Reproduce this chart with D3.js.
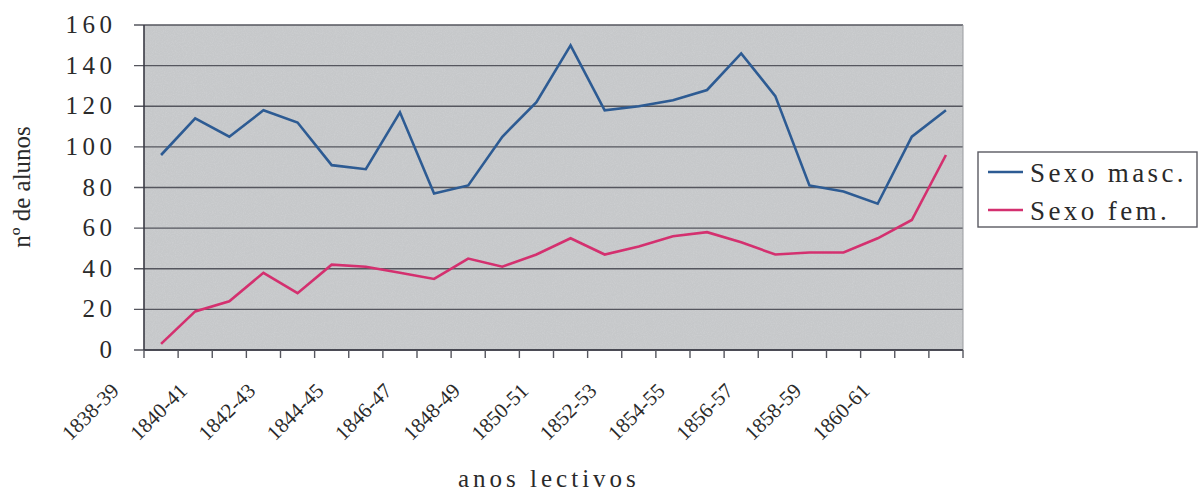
<!DOCTYPE html>
<html>
<head>
<meta charset="utf-8">
<script src="https://cdn.jsdelivr.net/npm/d3@7"></script>
<style>
  body { margin: 0; background: #fff; }
</style>
</head>
<body>
<div class="chart"></div>
<script>
// school years (24 categories, only every other one labelled on the axis)
var years = ['1838-39', '1839-40', '1840-41', '1841-42', '1842-43', '1843-44',
  '1844-45', '1845-46', '1846-47', '1847-48', '1848-49', '1849-50', '1850-51',
  '1851-52', '1852-53', '1853-54', '1854-55', '1855-56', '1856-57', '1857-58',
  '1858-59', '1859-60', '1860-61', '1861-62']

// number of pupils
var masc = [96, 114, 105, 118, 112, 91, 89, 117, 77, 81, 105, 122,
  150, 118, 120, 123, 128, 146, 125, 81, 78, 72, 105, 118]
var fem = [3, 19, 24, 38, 28, 42, 41, 38, 35, 45, 41, 47,
  55, 47, 51, 56, 58, 53, 47, 48, 48, 55, 64, 96]

var yTicks = [0, 20, 40, 60, 80, 100, 120, 140, 160]
var seriesNames = ['Sexo masc.', 'Sexo fem.']
var seriesColors = ['#2d5b93', '#d4306f']

// The renderer only keeps the serif face for plain, untransformed text, so
// everything upright is placed in absolute page coordinates (no group
// transforms) and the print-style spacing comes from textLength.
var FONT = '"Liberation Serif"'
var INK = '#2a2a2a'

var totalWidth = 1198, totalHeight = 494
var plot = {left: 144, right: 963, top: 25, bottom: 350}

var svg = d3.select('.chart').append('svg')
  .attr('width', totalWidth).attr('height', totalHeight)

function txt(sel, size){
  return sel.style('font-family', FONT).attr('font-size', size).attr('fill', INK)
}
// stretch a label's letter gaps out to a measured width
function stretch(sel, perGap){
  return sel.each(function(){
    var n = this.textContent.length
    if (n < 2) return
    var w = this.getComputedTextLength()
    d3.select(this).attr('textLength', w + perGap * (n - 1)).attr('lengthAdjust', 'spacing')
  })
}

// ---- scales ----
var x = d3.scaleBand().domain(years).range([plot.left, plot.right])
var y = d3.scaleLinear().domain([0, 160]).range([plot.bottom, plot.top])
function cx(d){ return x(d) + x.bandwidth() / 2 }

// grey plot panel (Excel default), with a little scan grain
var defs = svg.append('defs')
var grain = defs.append('filter').attr('id', 'grain').attr('x', 0).attr('y', 0).attr('width', 1).attr('height', 1)
grain.append('feTurbulence').attr('type', 'fractalNoise').attr('baseFrequency', 0.9).attr('numOctaves', 2).attr('result', 'n')
grain.append('feColorMatrix').attr('in', 'n').attr('type', 'matrix')
  .attr('values', '0 0 0 0 0.78  0 0 0 0 0.79  0 0 0 0 0.80  0 0 0 -0.9 0.55')
  .attr('result', 'm')
grain.append('feComposite').attr('in', 'm').attr('in2', 'SourceGraphic').attr('operator', 'in')

var pw = plot.right - plot.left, ph = plot.bottom - plot.top
svg.append('rect').attr('x', plot.left).attr('y', plot.top).attr('width', pw).attr('height', ph).attr('fill', '#c6c8ca')
svg.append('rect').attr('x', plot.left).attr('y', plot.top).attr('width', pw).attr('height', ph)
  .attr('fill', '#fff').attr('filter', 'url(#grain)').attr('opacity', 0.5)

// horizontal gridlines, poking 10px out to the left like Excel tick marks
svg.selectAll('line.grid').data(yTicks).enter().append('line')
  .attr('class', 'grid')
  .attr('x1', plot.left - 10).attr('x2', plot.right)
  .attr('y1', y).attr('y2', y)
  .attr('stroke', '#55565e').attr('stroke-width', 1.4)

// right border of the panel
svg.append('line').attr('x1', plot.right).attr('x2', plot.right).attr('y1', plot.top).attr('y2', plot.bottom)
  .attr('stroke', '#9a9ca0').attr('stroke-width', 1)

// ---- y axis ----
svg.append('line').attr('x1', plot.left).attr('x2', plot.left).attr('y1', plot.top).attr('y2', plot.bottom)
  .attr('stroke', '#3a3a44').attr('stroke-width', 1.6)
stretch(txt(svg.selectAll('text.yl').data(yTicks).enter().append('text'), 25)
  .attr('class', 'yl')
  .attr('x', plot.left - 32).attr('y', function(d){ return y(d) + 8 })
  .attr('text-anchor', 'end')
  .text(function(d){ return d }), 4.5)

// ---- x axis: ticks at category boundaries, every other label ----
svg.append('line').attr('x1', plot.left).attr('x2', plot.right).attr('y1', plot.bottom).attr('y2', plot.bottom)
  .attr('stroke', '#3a3a44').attr('stroke-width', 1.6)
var bounds = years.map(function(d){ return x(d) }).concat([x.range()[1]])
svg.selectAll('line.xt').data(bounds).enter().append('line')
  .attr('class', 'xt')
  .attr('x1', function(d){ return d }).attr('x2', function(d){ return d })
  .attr('y1', plot.bottom).attr('y2', plot.bottom + 8)
  .attr('stroke', '#55565e').attr('stroke-width', 1.4)

txt(svg.selectAll('text.xl').data(years.filter(function(d, i){ return i % 2 == 0 })).enter().append('text'), 21)
  .attr('class', 'xl')
  .attr('transform', function(d){ return 'translate(' + (cx(d) - 41) + ',' + (plot.bottom + 42) + ') rotate(-45)' })
  .attr('text-anchor', 'end')
  .text(function(d){ return d })

// ---- lines ----
var line = d3.line().x(function(d, i){ return cx(years[i]) }).y(function(d){ return y(d) })
;[masc, fem].forEach(function(vals, si){
  svg.append('path').attr('d', line(vals))
    .attr('fill', 'none').attr('stroke', seriesColors[si]).attr('stroke-width', 2.6)
    .attr('stroke-linejoin', 'miter')
})

// ---- axis titles ----
txt(svg.append('text'), 25)
  .attr('transform', 'translate(30,187) rotate(-90)')
  .attr('text-anchor', 'middle')
  .text('nº de alunos')

stretch(txt(svg.append('text'), 25)
  .attr('x', 458).attr('y', 487)
  .text('anos lectivos'), 4)

// ---- legend ----
svg.append('rect').attr('x', 978).attr('y', 152).attr('width', 219).attr('height', 75)
  .attr('fill', '#fff').attr('stroke', '#5a5a62').attr('stroke-width', 1.4)
seriesNames.forEach(function(name, i){
  var ly = 172 + i * 38
  svg.append('line').attr('x1', 988).attr('x2', 1023).attr('y1', ly).attr('y2', ly)
    .attr('stroke', seriesColors[i]).attr('stroke-width', 2.4)
  stretch(txt(svg.append('text'), 27).attr('x', 1030).attr('y', ly + 10)
    .text(name), 3.4)
})
</script>
</body>
</html>
